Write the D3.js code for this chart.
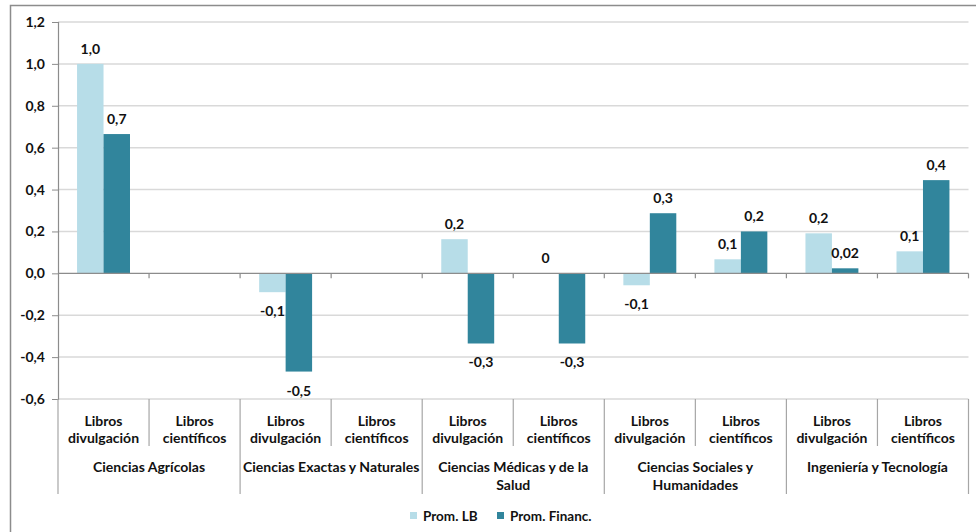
<!DOCTYPE html>
<html><head><meta charset="utf-8">
<script src="https://cdn.jsdelivr.net/npm/d3@7"></script>
<style>
html,body{margin:0;padding:0;background:#fff;}
svg text{font-family:Lato,"Open Sans",sans-serif;font-weight:bold;fill:#111;}
</style></head>
<body>
<svg id="c" width="976" height="532"></svg>
<script>
const groups = ["Ciencias Agrícolas","Ciencias Exactas y Naturales","Ciencias Médicas y de la Salud","Ciencias Sociales y Humanidades","Ingeniería y Tecnología"];
const groupLines = [["Ciencias Agrícolas"],["Ciencias Exactas y Naturales"],["Ciencias Médicas y de la","Salud"],["Ciencias Sociales y","Humanidades"],["Ingeniería y Tecnología"]];
const subTypes = [["Libros","divulgación"],["Libros","científicos"]];
const seriesNames = ["Prom. LB","Prom. Financ."];
const colors = ["#b7dde8","#31859c"];
// values per slot (group x subtype), null = no bar
const promLB     = [1.0, null, -0.09, null, 0.163, 0.0, -0.057, 0.067, 0.191, 0.105];
const promFin    = [0.665, null, -0.469, null, -0.335, -0.335, 0.287, 0.2, 0.024, 0.445];
const labelsLB   = ["1,0", null, "-0,1", null, "0,2", "0", "-0,1", "0,1", "0,2", "0,1"];
const labelsFin  = ["0,7", null, "-0,5", null, "-0,3", "-0,3", "0,3", "0,2", "0,02", "0,4"];
const yTicks = [-0.6,-0.4,-0.2,0,0.2,0.4,0.6,0.8,1.0,1.2];

const svg = d3.select("#c");
const L = 58, R = 968.5, T = 22, B = 399;
const FS = "14px";

// outer frame
svg.append("rect").attr("x",10.5).attr("y",5.5).attr("width",980).attr("height",540)
  .attr("fill","none").attr("stroke","#8c8c8c").attr("stroke-width",1.5);

const slots = d3.range(groups.length*2);
const x0 = d3.scaleBand().domain(slots).range([L,R]).paddingInner(0).paddingOuter(0);
const x1 = d3.scaleBand().domain([0,1]).range([0,x0.bandwidth()]).paddingInner(0).paddingOuter(0.72);
const y = d3.scaleLinear().domain([-0.6,1.2]).range([B,T]);

// gridlines
svg.append("g").selectAll("line").data(yTicks.filter(d=>d!==0)).join("line")
  .attr("x1",L).attr("x2",R).attr("y1",d=>y(d)).attr("y2",d=>y(d))
  .attr("stroke","#d9d9d9").attr("stroke-width",1.5);

// y axis
const yAxis = d3.axisLeft(y).tickValues(yTicks).tickSize(6).tickPadding(7)
  .tickFormat(d=>d3.format(".1f")(d).replace(".",",").replace("−","-"));
const ga = svg.append("g").attr("transform",`translate(${L},0)`).call(yAxis);
ga.select(".domain").attr("stroke","#8c8c8c").attr("stroke-width",1.2);
ga.selectAll(".tick line").attr("stroke","#8c8c8c");
ga.selectAll("text").style("font-size",FS).attr("fill","#111");

// bars
const series = [promLB, promFin];
const labels = [labelsLB, labelsFin];
series.forEach((vals,si)=>{
  const data = slots.map(i=>({i,v:vals[i],lab:labels[si][i]})).filter(d=>d.v!==null);
  svg.append("g").selectAll("rect").data(data).join("rect")
    .attr("x",d=>x0(d.i)+x1(si)).attr("width",x1.bandwidth())
    .attr("y",d=>y(Math.max(0,d.v))).attr("height",d=>Math.abs(y(d.v)-y(0)))
    .attr("fill",colors[si]);
  svg.append("g").selectAll("text").data(data).join("text")
    .attr("x",d=>x0(d.i)+x1(si)+x1.bandwidth()/2)
    .attr("y",d=>d.v>=0 ? y(d.v)-10 : y(d.v)+24)
    .attr("text-anchor","middle").style("font-size",FS).text(d=>d.lab);
});

// zero line (horizontal category axis)
svg.append("line").attr("x1",L).attr("x2",R).attr("y1",y(0)).attr("y2",y(0))
  .attr("stroke","#8c8c8c").attr("stroke-width",1.2);
svg.append("g").selectAll("line").data(slots.map(i=>x0(i)+x0.bandwidth())).join("line")
  .attr("x1",d=>d).attr("x2",d=>d).attr("y1",y(0)).attr("y2",y(0)+5)
  .attr("stroke","#8c8c8c").attr("stroke-width",1.2);

// category separators below plot
const sepData = slots.map(i=>({x:x0(i), major:i%2===0})).concat([{x:R, major:true}]);
svg.append("g").selectAll("line").data(sepData).join("line")
  .attr("x1",d=>d.x).attr("x2",d=>d.x).attr("y1",B).attr("y2",d=>d.major?494:446)
  .attr("stroke","#a6a6a6").attr("stroke-width",1.2);

// sub labels
slots.forEach(i=>{
  const t = svg.append("text").attr("x",x0(i)+x0.bandwidth()/2).attr("text-anchor","middle").style("font-size",FS);
  subTypes[i%2].forEach((s,k)=>t.append("tspan").attr("x",x0(i)+x0.bandwidth()/2).attr("y",426+k*17).text(s));
});
// group labels
groupLines.forEach((lines,g)=>{
  const cx = x0(g*2)+x0.bandwidth();
  const t = svg.append("text").attr("text-anchor","middle").style("font-size",FS);
  lines.forEach((s,k)=>t.append("tspan").attr("x",cx).attr("y",472+k*18).text(s));
});

// legend
const leg = svg.append("g");
const legX = [410, 497];
seriesNames.forEach((n,si)=>{
  leg.append("rect").attr("x",legX[si]).attr("y",512).attr("width",7).attr("height",7).attr("fill",colors[si]);
  leg.append("text").attr("x",legX[si]+13).attr("y",521).style("font-size","13.5px").text(n);
});
</script>
</body></html>
